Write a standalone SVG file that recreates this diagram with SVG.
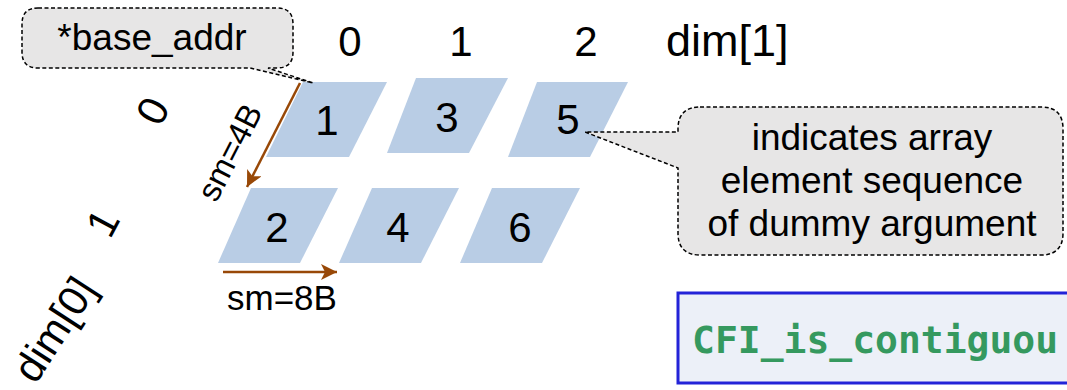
<svg xmlns="http://www.w3.org/2000/svg" width="1067" height="390" viewBox="0 0 1067 390">
<style>
.lbl{font-family:"Liberation Sans",Arial,sans-serif;fill:#000}
.cell{fill:#b9cde5;stroke:none}
.num{font-family:"Liberation Sans",Arial,sans-serif;font-size:42px;fill:#000;text-anchor:middle}
.callout{fill:#e7e6e6;stroke:#000;stroke-width:1.5;stroke-dasharray:4 2.5}
.ctext{font-family:"Liberation Sans",Arial,sans-serif;font-size:37px;fill:#000;text-anchor:middle}
.arrow{stroke:#984807;stroke-width:2.5;fill:none}
</style>
<defs>
<marker id="ah" markerUnits="userSpaceOnUse" markerWidth="18" markerHeight="16" refX="16" refY="8" orient="auto">
<path d="M0,0 L16,8 L0,16 L4,8 Z" fill="#984807"/>
</marker>
</defs>
<rect width="1067" height="390" fill="#fff"/>

<g id="cells">
<g id="cell1"><polygon class="cell" points="303,82 387,82 349,157 266,157"/><text class="num" x="327" y="135">1</text></g>
<g id="cell3"><polygon class="cell" points="416,78 508,78 469,153 387,153"/><text class="num" x="447" y="132">3</text></g>
<g id="cell5"><polygon class="cell" points="537,82 628,82 590,157 508,157"/><text class="num" x="568" y="134">5</text></g>
<g id="cell2"><polygon class="cell" points="251,188 338,188 300,263 218,263"/><text class="num" x="277" y="242">2</text></g>
<g id="cell4"><polygon class="cell" points="372,188 459,188 421,263 339,263"/><text class="num" x="398" y="242">4</text></g>
<g id="cell6"><polygon class="cell" points="492,188 580,188 542,263 460,263"/><text class="num" x="520" y="242">6</text></g>
</g>

<g id="axis-labels">
<text class="num" x="350" y="56" font-size="43">0</text>
<text class="num" x="461" y="56" font-size="43">1</text>
<text class="num" x="586" y="56" font-size="43">2</text>
<text class="lbl" x="666" y="56" font-size="45">dim[1]</text>
<g transform="translate(153,111) rotate(-62)"><text class="num" x="0" y="14" font-size="40">0</text></g>
<g transform="translate(103,223) rotate(-62)"><text class="num" x="0" y="14" font-size="40">1</text></g>
<g transform="translate(54,329) rotate(-57)"><text class="num" x="0" y="15" font-size="43">dim[0]</text></g>
</g>

<g id="connectors">
<line class="arrow" x1="300" y1="83" x2="247" y2="187" marker-end="url(#ah)"/>
<line class="arrow" x1="223" y1="272" x2="337" y2="272" marker-end="url(#ah)"/>
</g>

<g id="stride-labels">
<g transform="translate(229,152) rotate(-63)"><text class="lbl" x="0" y="12" font-size="33" text-anchor="middle">sm=4B</text></g>
<text class="lbl" x="227" y="310" font-size="35">sm=8B</text>
</g>

<g id="base-addr-callout">
<path class="callout" d="M38,8 H277 Q293,8 293,24 V52 Q293,68 277,68 H268 L313,83 L250,68 H38 Q22,68 22,52 V24 Q22,8 38,8 Z"/>
<text class="ctext" x="152" y="50">*base_addr</text>
</g>

<g id="sequence-callout">
<path class="callout" d="M700,107 H1041 Q1063,107 1063,129 V233 Q1063,255 1041,255 H700 Q678,255 678,233 V168 L585,132 L678,132 V129 Q678,107 700,107 Z"/>
<text class="ctext" x="872" y="150">indicates array</text>
<text class="ctext" x="872" y="193">element sequence</text>
<text class="ctext" x="872" y="236">of dummy argument</text>
</g>

<g id="cfi-box">
<rect x="678" y="293" width="420" height="90" fill="#ecf0f8" stroke="#2323d8" stroke-width="3"/>
<text x="692" y="353" font-family="'DejaVu Sans Mono',monospace" font-weight="bold" font-size="38" fill="#35995f">CFI_is_contiguou</text>
</g>
</svg>
